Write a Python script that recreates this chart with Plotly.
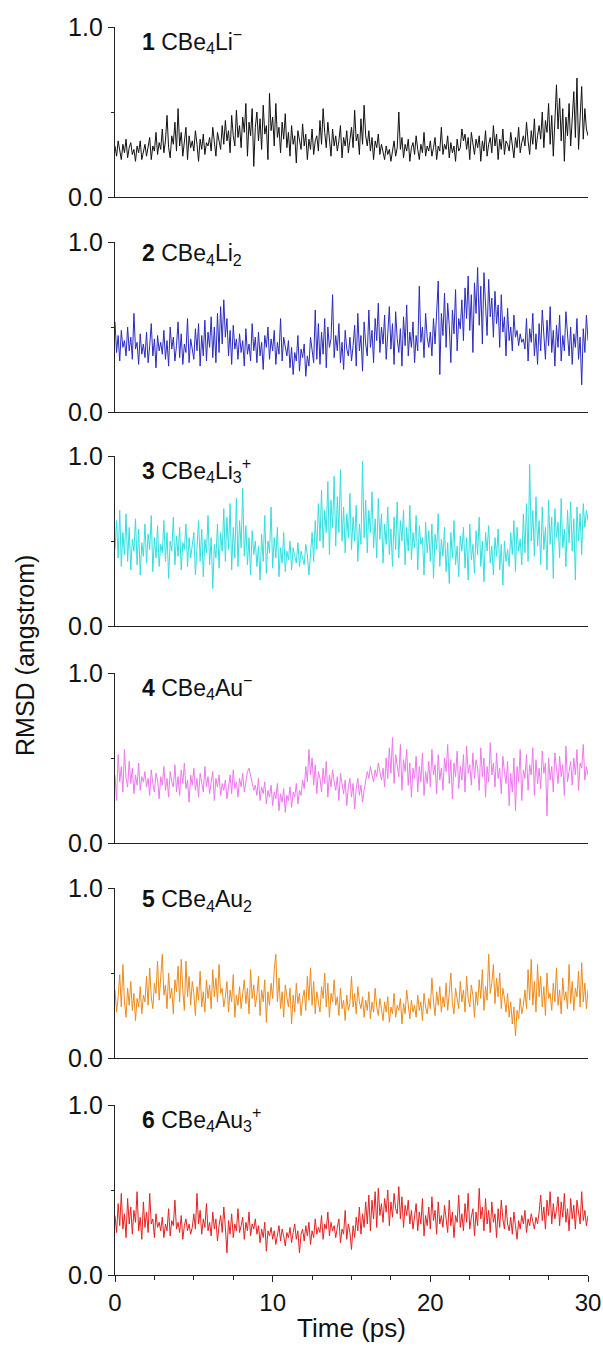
import numpy as np
import plotly.graph_objects as go

labels = ["<b>1</b> CBe<sub>4</sub>Li<sup>\u2212</sup>",
          "<b>2</b> CBe<sub>4</sub>Li<sub>2</sub>",
          "<b>3</b> CBe<sub>4</sub>Li<sub>3</sub><sup>+</sup>",
          "<b>4</b> CBe<sub>4</sub>Au<sup>\u2212</sup>",
          "<b>5</b> CBe<sub>4</sub>Au<sub>2</sub>",
          "<b>6</b> CBe<sub>4</sub>Au<sub>3</sub><sup>+</sup>"]
colors = ["#111111", "#2a2ac0", "#33dede", "#ee77ee", "#ee8a1a", "#e82020"]

rmsd_1 = [
 0.30,0.24,0.33,0.27,0.22,0.31,0.26,0.34,0.23,0.29,
 0.32,0.25,0.28,0.21,0.30,0.26,0.33,0.22,0.27,0.31,
 0.24,0.29,0.35,0.22,0.30,0.27,0.38,0.25,0.32,0.28,
 0.40,0.26,0.33,0.48,0.29,0.23,0.36,0.31,0.44,0.27,
 0.52,0.30,0.38,0.24,0.34,0.41,0.22,0.36,0.29,0.33,
 0.27,0.39,0.31,0.21,0.34,0.28,0.37,0.25,0.32,0.30,
 0.35,0.27,0.41,0.30,0.24,0.38,0.33,0.28,0.42,0.31,
 0.45,0.33,0.39,0.26,0.48,0.36,0.30,0.51,0.35,0.42,
 0.29,0.47,0.38,0.55,0.24,0.44,0.36,0.52,0.18,0.41,
 0.50,0.33,0.46,0.28,0.54,0.37,0.42,0.22,0.61,0.39,
 0.47,0.30,0.55,0.35,0.41,0.26,0.44,0.34,0.49,0.29,
 0.38,0.24,0.42,0.31,0.36,0.20,0.39,0.33,0.28,0.43,
 0.30,0.37,0.22,0.34,0.28,0.40,0.25,0.33,0.36,0.27,
 0.45,0.31,0.52,0.38,0.29,0.44,0.33,0.24,0.40,0.30,
 0.36,0.27,0.33,0.42,0.23,0.35,0.30,0.39,0.26,0.34,
 0.41,0.29,0.51,0.33,0.37,0.25,0.46,0.31,0.54,0.36,
 0.30,0.39,0.27,0.35,0.22,0.33,0.29,0.37,0.25,0.31,
 0.26,0.22,0.30,0.25,0.28,0.21,0.27,0.33,0.24,0.29,
 0.50,0.28,0.35,0.23,0.31,0.27,0.34,0.21,0.29,0.32,
 0.25,0.36,0.28,0.22,0.31,0.26,0.38,0.24,0.30,0.27,
 0.33,0.24,0.29,0.35,0.22,0.30,0.27,0.41,0.25,0.31,
 0.28,0.36,0.23,0.32,0.26,0.30,0.21,0.34,0.27,0.29,
 0.40,0.33,0.37,0.28,0.35,0.22,0.38,0.30,0.25,0.34,
 0.29,0.36,0.21,0.33,0.27,0.39,0.24,0.31,0.35,0.26,
 0.42,0.30,0.37,0.22,0.34,0.28,0.40,0.25,0.33,0.31,
 0.27,0.38,0.30,0.23,0.35,0.29,0.41,0.26,0.32,0.36,
 0.30,0.44,0.33,0.25,0.39,0.31,0.46,0.28,0.36,0.42,
 0.34,0.50,0.29,0.45,0.38,0.55,0.31,0.48,0.24,0.42,
 0.66,0.40,0.58,0.33,0.52,0.21,0.47,0.36,0.55,0.30,
 0.44,0.62,0.35,0.70,0.28,0.49,0.65,0.34,0.52,0.40,
 0.36]

rmsd_2 = [
 0.53,0.35,0.45,0.30,0.48,0.38,0.42,0.33,0.50,0.36,
 0.44,0.31,0.58,0.37,0.41,0.28,0.46,0.34,0.40,0.32,
 0.47,0.29,0.39,0.52,0.33,0.43,0.26,0.45,0.36,0.41,
 0.34,0.48,0.31,0.42,0.27,0.50,0.37,0.44,0.30,0.39,
 0.53,0.32,0.46,0.28,0.40,0.35,0.55,0.29,0.43,0.38,
 0.31,0.49,0.36,0.52,0.27,0.45,0.33,0.54,0.30,0.47,
 0.38,0.56,0.32,0.50,0.29,0.58,0.35,0.62,0.40,0.66,
 0.44,0.55,0.33,0.48,0.28,0.51,0.37,0.43,0.31,0.46,
 0.35,0.42,0.27,0.49,0.34,0.40,0.30,0.52,0.36,0.44,
 0.29,0.47,0.33,0.41,0.25,0.45,0.38,0.50,0.31,0.43,
 0.36,0.48,0.28,0.41,0.34,0.55,0.30,0.44,0.37,0.33,
 0.42,0.26,0.38,0.22,0.35,0.30,0.45,0.24,0.37,0.32,
 0.40,0.21,0.33,0.27,0.44,0.35,0.29,0.60,0.31,0.52,
 0.28,0.47,0.34,0.55,0.26,0.50,0.38,0.43,0.69,0.32,
 0.45,0.36,0.52,0.29,0.41,0.25,0.48,0.37,0.33,0.44,
 0.30,0.39,0.51,0.27,0.58,0.36,0.45,0.24,0.53,0.40,
 0.33,0.60,0.38,0.48,0.29,0.55,0.42,0.64,0.35,0.50,
 0.40,0.57,0.31,0.46,0.62,0.37,0.52,0.28,0.59,0.43,
 0.35,0.49,0.27,0.56,0.39,0.63,0.33,0.47,0.38,0.53,
 0.29,0.45,0.36,0.74,0.41,0.50,0.32,0.58,0.44,0.38,
 0.47,0.33,0.55,0.40,0.62,0.77,0.22,0.58,0.45,0.70,
 0.38,0.64,0.51,0.29,0.60,0.46,0.72,0.36,0.55,0.49,
 0.66,0.42,0.73,0.55,0.80,0.48,0.69,0.35,0.76,0.58,
 0.85,0.51,0.74,0.40,0.82,0.60,0.45,0.78,0.56,0.67,
 0.44,0.71,0.52,0.63,0.38,0.69,0.47,0.56,0.33,0.61,
 0.42,0.50,0.36,0.57,0.44,0.48,0.39,0.46,0.41,0.43,
 0.37,0.55,0.30,0.49,0.41,0.58,0.33,0.46,0.28,0.52,
 0.36,0.60,0.43,0.31,0.54,0.39,0.62,0.35,0.48,0.27,
 0.51,0.38,0.57,0.30,0.45,0.36,0.59,0.42,0.33,0.50,
 0.28,0.46,0.38,0.55,0.31,0.44,0.16,0.49,0.35,0.57,
 0.42]

rmsd_3 = [
 0.45,0.62,0.40,0.68,0.35,0.55,0.42,0.66,0.38,0.58,
 0.33,0.51,0.44,0.63,0.36,0.57,0.30,0.49,0.41,0.60,
 0.37,0.54,0.45,0.65,0.32,0.52,0.40,0.59,0.35,0.48,
 0.43,0.62,0.38,0.55,0.28,0.50,0.44,0.64,0.36,0.53,
 0.41,0.58,0.33,0.49,0.45,0.60,0.35,0.52,0.40,0.47,
 0.55,0.30,0.46,0.62,0.38,0.57,0.29,0.51,0.43,0.65,
 0.36,0.52,0.22,0.48,0.40,0.60,0.34,0.55,0.44,0.69,
 0.38,0.64,0.45,0.72,0.33,0.58,0.40,0.75,0.35,0.62,
 0.46,0.81,0.41,0.59,0.36,0.52,0.30,0.56,0.42,0.50,
 0.35,0.47,0.27,0.54,0.38,0.65,0.31,0.50,0.43,0.70,
 0.34,0.52,0.40,0.58,0.29,0.46,0.37,0.55,0.32,0.44,
 0.39,0.50,0.33,0.46,0.41,0.37,0.49,0.35,0.44,0.40,
 0.36,0.48,0.42,0.30,0.45,0.55,0.38,0.62,0.45,0.72,
 0.50,0.80,0.46,0.68,0.55,0.85,0.42,0.74,0.58,0.88,
 0.47,0.76,0.55,0.92,0.50,0.70,0.43,0.66,0.52,0.78,
 0.45,0.64,0.50,0.71,0.38,0.60,0.48,0.97,0.52,0.74,
 0.43,0.68,0.55,0.79,0.46,0.63,0.40,0.75,0.51,0.66,
 0.37,0.60,0.48,0.70,0.42,0.57,0.35,0.64,0.45,0.73,
 0.40,0.62,0.50,0.68,0.36,0.58,0.44,0.71,0.39,0.55,
 0.46,0.65,0.33,0.59,0.48,0.52,0.30,0.61,0.43,0.56,
 0.38,0.60,0.28,0.54,0.45,0.66,0.35,0.51,0.41,0.58,
 0.32,0.49,0.25,0.55,0.40,0.62,0.36,0.47,0.29,0.53,
 0.44,0.58,0.34,0.52,0.27,0.60,0.39,0.48,0.31,0.56,
 0.42,0.64,0.35,0.50,0.26,0.55,0.44,0.59,0.37,0.47,
 0.30,0.52,0.41,0.57,0.33,0.48,0.24,0.50,0.38,0.45,
 0.35,0.55,0.42,0.62,0.32,0.58,0.44,0.51,0.36,0.66,
 0.43,0.72,0.38,0.95,0.50,0.68,0.41,0.76,0.47,0.62,
 0.36,0.70,0.45,0.58,0.33,0.74,0.48,0.64,0.28,0.69,
 0.52,0.61,0.40,0.75,0.46,0.57,0.35,0.68,0.49,0.73,
 0.44,0.63,0.27,0.70,0.50,0.66,0.42,0.72,0.58,0.68,
 0.62]

rmsd_4 = [
 0.40,0.25,0.52,0.36,0.45,0.30,0.55,0.38,0.33,0.48,
 0.35,0.44,0.29,0.40,0.34,0.47,0.31,0.39,0.36,0.42,
 0.33,0.38,0.28,0.43,0.35,0.30,0.41,0.37,0.26,0.39,
 0.34,0.45,0.31,0.38,0.27,0.42,0.36,0.33,0.46,0.30,
 0.39,0.28,0.43,0.35,0.47,0.32,0.37,0.24,0.40,0.34,
 0.44,0.31,0.38,0.27,0.41,0.36,0.30,0.45,0.33,0.39,
 0.29,0.36,0.42,0.25,0.38,0.33,0.40,0.28,0.35,0.31,
 0.37,0.26,0.34,0.40,0.29,0.43,0.32,0.36,0.27,0.38,
 0.33,0.41,0.30,0.37,0.42,0.44,0.40,0.36,0.31,0.34,
 0.28,0.38,0.25,0.33,0.29,0.36,0.23,0.31,0.27,0.34,
 0.22,0.30,0.26,0.35,0.19,0.29,0.24,0.32,0.18,0.28,
 0.25,0.33,0.21,0.30,0.27,0.35,0.23,0.31,0.28,0.37,
 0.32,0.45,0.36,0.55,0.40,0.50,0.34,0.46,0.29,0.42,
 0.38,0.30,0.44,0.35,0.48,0.27,0.40,0.33,0.43,0.36,
 0.31,0.39,0.25,0.41,0.34,0.29,0.37,0.22,0.33,0.38,
 0.27,0.35,0.20,0.32,0.38,0.28,0.34,0.24,0.31,0.36,
 0.42,0.38,0.45,0.40,0.36,0.43,0.39,0.47,0.41,0.37,
 0.44,0.33,0.50,0.38,0.56,0.41,0.62,0.35,0.52,0.46,
 0.39,0.58,0.31,0.49,0.42,0.55,0.34,0.47,0.27,0.44,
 0.38,0.51,0.30,0.45,0.36,0.53,0.28,0.42,0.35,0.48,
 0.33,0.55,0.40,0.46,0.29,0.52,0.37,0.44,0.31,0.50,
 0.42,0.58,0.35,0.49,0.26,0.47,0.39,0.54,0.32,0.45,
 0.37,0.52,0.30,0.57,0.41,0.46,0.34,0.53,0.38,0.49,
 0.44,0.31,0.56,0.39,0.50,0.27,0.45,0.36,0.59,0.40,
 0.47,0.33,0.53,0.38,0.44,0.29,0.51,0.42,0.35,0.48,
 0.22,0.41,0.30,0.50,0.19,0.45,0.36,0.55,0.25,0.43,
 0.38,0.52,0.31,0.46,0.40,0.56,0.28,0.49,0.35,0.44,
 0.32,0.54,0.41,0.47,0.16,0.50,0.37,0.45,0.30,0.53,
 0.43,0.35,0.51,0.39,0.46,0.28,0.57,0.36,0.42,0.48,
 0.34,0.50,0.40,0.55,0.31,0.47,0.44,0.58,0.37,0.45,
 0.40]

rmsd_5 = [
 0.40,0.27,0.36,0.49,0.30,0.55,0.33,0.24,0.41,0.31,
 0.45,0.28,0.38,0.22,0.35,0.30,0.42,0.26,0.37,0.33,
 0.48,0.31,0.53,0.36,0.29,0.44,0.38,0.57,0.34,0.45,
 0.61,0.37,0.43,0.29,0.50,0.35,0.41,0.26,0.46,0.39,
 0.54,0.33,0.58,0.40,0.28,0.57,0.36,0.48,0.31,0.45,
 0.38,0.25,0.42,0.34,0.51,0.30,0.39,0.27,0.46,0.35,
 0.43,0.29,0.52,0.36,0.47,0.33,0.55,0.38,0.41,0.30,
 0.36,0.45,0.27,0.40,0.33,0.49,0.24,0.37,0.31,0.42,
 0.29,0.38,0.46,0.32,0.41,0.26,0.52,0.35,0.43,0.30,
 0.37,0.48,0.25,0.40,0.33,0.46,0.21,0.39,0.31,0.44,
 0.35,0.52,0.61,0.33,0.47,0.29,0.39,0.24,0.43,0.36,
 0.30,0.41,0.20,0.37,0.27,0.44,0.32,0.38,0.25,0.35,
 0.40,0.28,0.48,0.34,0.53,0.31,0.45,0.26,0.39,0.33,
 0.27,0.42,0.35,0.50,0.30,0.44,0.24,0.38,0.33,0.46,
 0.31,0.36,0.25,0.41,0.29,0.34,0.22,0.37,0.28,0.32,
 0.48,0.30,0.38,0.26,0.42,0.33,0.29,0.36,0.24,0.34,
 0.28,0.39,0.23,0.33,0.27,0.41,0.30,0.25,0.35,0.29,
 0.22,0.33,0.27,0.36,0.21,0.30,0.26,0.38,0.24,0.31,
 0.28,0.35,0.20,0.32,0.26,0.40,0.29,0.23,0.34,0.27,
 0.31,0.24,0.37,0.28,0.33,0.22,0.38,0.30,0.26,0.35,
 0.29,0.47,0.33,0.25,0.39,0.31,0.42,0.27,0.36,0.30,
 0.44,0.28,0.38,0.50,0.32,0.26,0.41,0.35,0.29,0.45,
 0.33,0.40,0.27,0.48,0.35,0.30,0.43,0.37,0.24,0.39,
 0.31,0.46,0.35,0.52,0.28,0.42,0.34,0.61,0.38,0.44,
 0.55,0.32,0.47,0.36,0.50,0.29,0.41,0.35,0.27,0.38,
 0.24,0.33,0.20,0.30,0.13,0.28,0.23,0.35,0.26,0.31,
 0.40,0.29,0.52,0.34,0.58,0.31,0.45,0.27,0.55,0.36,
 0.48,0.30,0.42,0.25,0.50,0.35,0.38,0.28,0.44,0.33,
 0.53,0.31,0.40,0.26,0.47,0.34,0.39,0.29,0.55,0.32,
 0.45,0.28,0.41,0.36,0.51,0.30,0.56,0.33,0.44,0.29,
 0.40]

rmsd_6 = [
 0.35,0.25,0.42,0.29,0.48,0.27,0.36,0.22,0.45,0.30,
 0.40,0.24,0.38,0.31,0.49,0.26,0.34,0.21,0.43,0.28,
 0.37,0.25,0.48,0.30,0.33,0.22,0.36,0.28,0.31,0.26,
 0.34,0.22,0.30,0.26,0.39,0.23,0.32,0.29,0.44,0.27,
 0.31,0.25,0.35,0.21,0.29,0.33,0.26,0.30,0.24,0.28,
 0.36,0.27,0.48,0.30,0.38,0.24,0.33,0.28,0.42,0.26,
 0.31,0.23,0.37,0.27,0.33,0.20,0.29,0.35,0.25,0.40,
 0.28,0.13,0.32,0.24,0.36,0.22,0.30,0.26,0.39,0.25,
 0.29,0.34,0.21,0.31,0.26,0.37,0.23,0.30,0.27,0.33,
 0.24,0.29,0.19,0.27,0.22,0.31,0.14,0.26,0.23,0.28,
 0.21,0.26,0.18,0.24,0.29,0.20,0.27,0.23,0.17,0.25,
 0.22,0.28,0.19,0.25,0.30,0.21,0.26,0.13,0.24,0.27,
 0.20,0.29,0.23,0.31,0.18,0.26,0.22,0.33,0.24,0.28,
 0.25,0.35,0.21,0.30,0.27,0.37,0.23,0.31,0.26,0.29,
 0.22,0.28,0.33,0.19,0.27,0.24,0.38,0.21,0.30,0.25,
 0.15,0.29,0.22,0.34,0.26,0.40,0.24,0.36,0.28,0.43,
 0.30,0.47,0.26,0.44,0.33,0.49,0.28,0.51,0.35,0.42,
 0.31,0.45,0.37,0.50,0.29,0.43,0.34,0.48,0.39,0.36,
 0.52,0.33,0.46,0.28,0.41,0.35,0.44,0.30,0.38,0.27,
 0.34,0.42,0.26,0.37,0.30,0.45,0.23,0.35,0.29,0.40,
 0.27,0.46,0.32,0.38,0.24,0.43,0.30,0.35,0.28,0.41,
 0.33,0.25,0.44,0.29,0.37,0.22,0.35,0.31,0.47,0.28,
 0.36,0.26,0.42,0.31,0.48,0.27,0.34,0.39,0.23,0.37,
 0.29,0.51,0.33,0.40,0.26,0.45,0.30,0.38,0.25,0.43,
 0.31,0.36,0.22,0.39,0.28,0.44,0.33,0.27,0.41,0.30,
 0.26,0.34,0.24,0.37,0.29,0.21,0.32,0.27,0.35,0.30,
 0.38,0.25,0.33,0.29,0.36,0.31,0.27,0.34,0.30,0.37,
 0.47,0.32,0.40,0.27,0.44,0.35,0.49,0.30,0.42,0.33,
 0.38,0.46,0.29,0.43,0.34,0.48,0.31,0.39,0.26,0.45,
 0.33,0.41,0.27,0.44,0.36,0.30,0.49,0.32,0.38,0.29,
 0.35]

series = [rmsd_1, rmsd_2, rmsd_3, rmsd_4, rmsd_5, rmsd_6]
t_start, t_end = 0.0, 30.0

W, H = 603, 1353
ML, MR, MT, MB = 115, 15, 27, 78
panel_tops = [27, 242, 456, 673, 888, 1105]
panel_h = 170
plot_h = H - MT - MB

def to_paper(py):
    return (H - MB - py) / plot_h

FONT = "Liberation Sans, Arial, sans-serif"
TXT = "#111111"
fig = go.Figure()
layout = dict(
    width=W, height=H, margin=dict(l=ML, r=MR, t=MT, b=MB, autoexpand=False),
    paper_bgcolor="white", plot_bgcolor="white", showlegend=False,
    font=dict(family=FONT, color=TXT, size=24),
)
annotations = []
for i, vals in enumerate(series):
    n = i + 1
    xa = "x" if n == 1 else f"x{n}"
    ya = "y" if n == 1 else f"y{n}"
    t = np.linspace(t_start, t_end, len(vals))
    fig.add_trace(go.Scatter(x=t, y=vals, mode="lines",
                             line=dict(color=colors[i], width=1),
                             xaxis=xa, yaxis=ya))
    top = panel_tops[i]
    dom = [to_paper(top + panel_h), to_paper(top)]
    last = (n == 6)
    xkey = "xaxis" if n == 1 else f"xaxis{n}"
    ykey = "yaxis" if n == 1 else f"yaxis{n}"
    xcfg = dict(domain=[0, 1], range=[0, 30], anchor=ya, showgrid=False, automargin=False,
                zeroline=False, showline=True, linecolor="#222222", linewidth=1.3)
    if last:
        xcfg.update(ticks="outside", tickvals=[0, 10, 20, 30], ticklen=6,
                    tickwidth=1.3, tickcolor="#222222", ticklabeloverflow="allow",
                    tickfont=dict(size=24, family=FONT, color=TXT),
                    minor=dict(tickvals=[2.5, 5, 7.5, 12.5, 15, 17.5, 22.5, 25, 27.5],
                               ticks="outside", ticklen=4, tickwidth=1.3, tickcolor="#222222"),
                    title=dict(text="Time (ps)", font=dict(size=26, family=FONT, color=TXT),
                               standoff=3))
    else:
        xcfg.update(showticklabels=False, ticks="")
    if n != 1:
        xcfg["matches"] = "x"
    layout[xkey] = xcfg
    layout[ykey] = dict(domain=dom, range=[0, 1], anchor=xa, showgrid=False, automargin=False,
                        zeroline=False, showline=True, linecolor="#222222", linewidth=1.3,
                        ticks="outside", tickvals=[0, 1], ticktext=["0.0", "1.0"],
                        ticklen=6, tickwidth=1.3, tickcolor="#222222",
                        tickfont=dict(size=25, family=FONT, color=TXT),
                        minor=dict(tickvals=[0.5], ticks="outside", ticklen=3,
                                   tickwidth=1, tickcolor="#222222"))
    annotations.append(dict(text=labels[i], xref=f"{xa} domain", yref=f"{ya} domain",
                            x=(140 - ML) / (W - ML - MR), y=1.0, xanchor="left", yanchor="top",
                            yshift=4, showarrow=False,
                            font=dict(size=23, family=FONT, color=TXT)))

annotations.append(dict(text="RMSD (angstrom)", xref="paper", yref="paper",
                        x=(25 - ML) / (W - ML - MR), y=to_paper(656), xanchor="center",
                        yanchor="middle", textangle=-90, showarrow=False,
                        font=dict(size=25, family=FONT, color=TXT)))
layout["annotations"] = annotations
fig.update_layout(**layout)
fig.write_html("out.html")
